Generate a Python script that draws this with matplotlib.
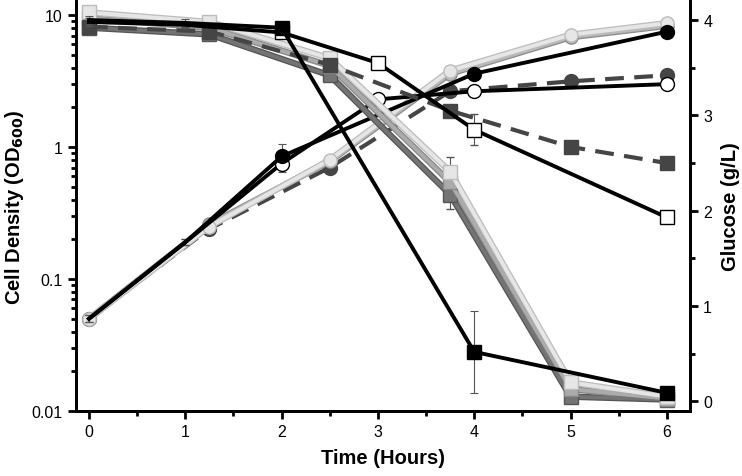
import numpy as np
import matplotlib
matplotlib.use("Agg")
import matplotlib.pyplot as plt
from matplotlib.ticker import FixedLocator, FuncFormatter, MultipleLocator, LogLocator, NullFormatter

plt.rcParams['font.family'] = ['Liberation Sans', 'DejaVu Sans']

# ---- data ----
# group A: black lines, sampled at 0,1,2,(3),4,6 h
t_filled = [0, 1, 2, 4, 6]
od_filled = [0.05, 0.19, 0.85, 3.6, 7.5]
od_filled_err = [0.003, 0.01, 0.2, 0.3, 0.4]
glc_filled = [4.0, 3.97, 3.92, 0.52, 0.09]
glc_filled_err = [0.04, 0.04, 0.04, 0.43, 0.03]

t_open = [0, 1, 2, 3, 4, 6]
od_open = [0.05, 0.19, 0.75, 2.3, 2.65, 3.0]
od_open_err = [0.003, 0.01, 0.08, 0.2, 0.15, 0.2]
glc_open = [3.98, 3.95, 3.87, 3.55, 2.85, 1.93]
glc_open_err = [0.04, 0.03, 0.04, 0.03, 0.16, 0.03]

# group B: gray / dashed, sampled at 0,1.25,2.5,3.75,5,6 h
t_b = [0, 1.25, 2.5, 3.75, 5, 6]
od_dashed = [0.05, 0.24, 0.70, 2.65, 3.15, 3.5]
glc_dashed = [3.93, 3.88, 3.53, 3.05, 2.67, 2.5]
glc_dashed_err = [0.04, 0.03, 0.04, 0.03, 0.06, 0.02]
od_gray_mid = [0.05, 0.26, 0.78, 3.6, 6.8, 8.3]
od_gray_light = [0.05, 0.25, 0.80, 3.8, 7.1, 8.7]
glc_gray_dark = [3.92, 3.85, 3.42, 2.17, 0.05, 0.02]
glc_gray_mid = [4.02, 3.92, 3.52, 2.30, 0.13, 0.03]
glc_gray_light = [4.08, 3.98, 3.60, 2.41, 0.20, 0.05]
glc_gray_err = [0.04, 0.04, 0.04, 0.15, 0.03, 0.02]

fig = plt.figure(figsize=(7.42, 4.77), dpi=100)
ax = fig.add_axes([0.1024, 0.1363, 0.8275, 0.8595])
ax2 = ax.twinx()

eb = dict(capsize=3, elinewidth=0.8, capthick=0.8, ecolor='#555555')


def gray_series(a, t, y, fill, edge, marker, z, yerr=None):
    # outlined gray line: darker wide line under a lighter narrow one
    a.plot(t, y, '-', color=edge, lw=4.6, zorder=z)
    if yerr is None:
        a.plot(t, y, '-' + marker, color=fill, lw=2.8, ms=9.5, mec=edge, mew=1, zorder=z)
    else:
        a.errorbar(t, y, yerr=yerr, fmt='-' + marker, color=fill, lw=2.8, ms=9.5,
                   mec=edge, mew=1, zorder=z, **eb)


# ---- cell density (left, log) ----
ax.plot(t_b, od_dashed, '--o', color='#454545', lw=3, ms=10, dashes=(4.5, 2.5), zorder=3)
gray_series(ax, t_b, od_gray_mid, '#b8b8b8', '#8c8c8c', 'o', 4)
gray_series(ax, t_b, od_gray_light, '#e6e6e6', '#bcbcbc', 'o', 4)
ax.errorbar(t_open, od_open, yerr=od_open_err, fmt='-o', color='black', lw=2.8,
            ms=10, mfc='white', mec='black', mew=1, markevery=[2, 3, 4, 5], zorder=5, **eb)
ax.errorbar(t_filled, od_filled, yerr=od_filled_err, fmt='-o', color='black', lw=2.8,
            ms=10, markevery=[2, 3, 4], zorder=5, **eb)

# ---- glucose (right, linear) ----
gray_series(ax2, t_b, glc_gray_dark, '#747474', '#555555', 's', 3, glc_gray_err)
gray_series(ax2, t_b, glc_gray_mid, '#ababab', '#888888', 's', 3, glc_gray_err)
gray_series(ax2, t_b, glc_gray_light, '#e6e6e6', '#bcbcbc', 's', 3, glc_gray_err)
ax2.errorbar(t_b, glc_dashed, yerr=glc_dashed_err, fmt='--s', color='#454545', lw=3,
             ms=10, dashes=(4.5, 2.5), zorder=4, **eb)
ax2.errorbar(t_open, glc_open, yerr=glc_open_err, fmt='-s', color='black', lw=2.8,
             ms=10, mfc='white', mec='black', mew=1, markevery=[2, 3, 4, 5], zorder=5, **eb)
ax2.errorbar(t_filled, glc_filled, yerr=glc_filled_err, fmt='-s', color='black', lw=2.8,
             ms=10, markevery=[2, 3, 4], zorder=5, **eb)

# ---- axes ----
ax.set_yscale('log')
ax.set_ylim(0.01, 12.8)
ax.set_xlim(-0.135, 6.24)
ax2.set_ylim(-0.1, 4.2)

ax.yaxis.set_major_locator(FixedLocator([0.01, 0.1, 1, 10]))
ax.yaxis.set_major_formatter(FuncFormatter(lambda v, p: f"{v:g}"))
ax.yaxis.set_minor_locator(LogLocator(base=10, subs=np.arange(2, 10)))
ax.yaxis.set_minor_formatter(NullFormatter())
ax.xaxis.set_major_locator(MultipleLocator(1))
ax.xaxis.set_minor_locator(MultipleLocator(0.5))
ax2.yaxis.set_major_locator(MultipleLocator(1))
ax2.yaxis.set_minor_locator(MultipleLocator(0.5))

for a in (ax, ax2):
    for s in a.spines.values():
        s.set_linewidth(2)
    a.spines['top'].set_visible(False)
    a.tick_params(which='major', direction='out', length=6, width=2, labelsize=11.5)
    a.tick_params(which='minor', direction='out', length=3.5, width=2)

ax.set_xlabel("Time (Hours)", fontsize=14.5, fontweight='bold', labelpad=6)
ax.set_ylabel("Cell Density (OD$_{\\mathbf{600}}$)", fontsize=14.5, fontweight='bold', labelpad=4)
ax2.set_ylabel("Glucose (g/L)", fontsize=14.5, fontweight='bold', labelpad=6)

fig.savefig("out.png", dpi=100)
